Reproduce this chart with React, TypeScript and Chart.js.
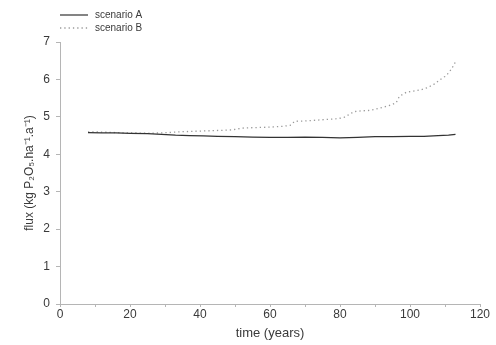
import React, { useEffect, useRef } from "react";
import { Chart, registerables } from "chart.js";

Chart.register(...registerables);

const yearsA = [8, 12, 16, 20, 25, 29, 33, 37, 41, 45, 50, 55, 60, 65, 70, 75, 80, 85, 90, 95, 100, 104, 108, 111, 113];
const fluxA = [4.58, 4.57, 4.57, 4.56, 4.55, 4.53, 4.51, 4.50, 4.49, 4.48, 4.47, 4.46, 4.45, 4.45, 4.46, 4.45, 4.44, 4.45, 4.47, 4.47, 4.48, 4.48, 4.50, 4.51, 4.53];

const yearsB = [8, 10, 13, 16, 19, 22, 25, 28, 31, 34, 37, 40, 43, 46, 49, 52, 55, 58, 61, 64, 66, 67, 70, 73, 76, 79, 81, 82, 84, 86, 88, 90, 92, 94, 96, 97, 99, 101, 103, 105, 107, 109, 110, 111, 112, 113];
const fluxB = [4.60, 4.60, 4.59, 4.58, 4.57, 4.57, 4.56, 4.57, 4.58, 4.60, 4.61, 4.62, 4.63, 4.64, 4.65, 4.70, 4.71, 4.72, 4.73, 4.75, 4.78, 4.88, 4.89, 4.91, 4.93, 4.95, 4.98, 5.03, 5.14, 5.16, 5.17, 5.20, 5.25, 5.30, 5.37, 5.55, 5.66, 5.69, 5.72, 5.78, 5.88, 6.02, 6.08, 6.17, 6.30, 6.47];

const xTicks = [0, 20, 40, 60, 80, 100, 120];
const yTicks = [0, 1, 2, 3, 4, 5, 6, 7];
const seriesNames = ["scenario A", "scenario B"];

const FONT = "'Liberation Sans', Arial, sans-serif";
const TEXT = "#3a3a3a";
const AXIS = "#b5b5b5";

const legendPlugin = {
  id: "customLegend",
  afterDraw(chart: any) {
    const ctx = chart.ctx;
    const items = chart.data.datasets;
    ctx.save();
    items.forEach((ds: any, i: number) => {
      const y = 15 + i * 13;
      ctx.beginPath();
      ctx.strokeStyle = ds.borderColor;
      ctx.lineWidth = ds.borderWidth;
      ctx.setLineDash(ds.borderDash || []);
      ctx.moveTo(60, y);
      ctx.lineTo(88, y);
      ctx.stroke();
      ctx.setLineDash([]);
      ctx.fillStyle = TEXT;
      ctx.font = `10px ${FONT}`;
      ctx.textBaseline = "middle";
      ctx.textAlign = "left";
      ctx.fillText(ds.label, 95, y);
    });
    ctx.restore();
  },
};

export default function App() {
  const ref = useRef<HTMLCanvasElement>(null);
  useEffect(() => {
    if (!ref.current) return;
    const chart = new Chart(ref.current, {
      type: "line",
      data: {
        datasets: [
          {
            label: seriesNames[0],
            data: yearsA.map((x, i) => ({ x, y: fluxA[i] })),
            borderColor: "#333333",
            borderWidth: 1.2,
            pointRadius: 0,
            tension: 0,
          },
          {
            label: seriesNames[1],
            data: yearsB.map((x, i) => ({ x, y: fluxB[i] })),
            borderColor: "#9a9a9a",
            borderWidth: 1.3,
            borderDash: [1.3, 3],
            pointRadius: 0,
            tension: 0,
          },
        ],
      },
      options: {
        animation: false,
        responsive: false,
        layout: { padding: { top: 42, right: 16, left: 20, bottom: 0 } },
        plugins: { legend: { display: false }, tooltip: { enabled: false } },
        scales: {
          x: {
            type: "linear",
            min: 0,
            max: 120,
            afterFit(s: any) { s.height = 41; },
            afterBuildTicks(s: any) {
              const t: any[] = [];
              for (let v = 0; v <= 120; v += 10) t.push({ value: v });
              s.ticks = t;
            },
            ticks: {
              autoSkip: false,
              maxRotation: 0,
              color: TEXT,
              font: { family: FONT, size: 12 },
              padding: 0,
              callback: (v: any) => (xTicks.includes(Number(v)) ? String(v) : ""),
            },
            grid: { drawOnChartArea: false, drawTicks: true, tickLength: 3, color: AXIS },
            border: { color: AXIS, width: 1 },
            title: {
              display: true,
              text: "time (years)",
              color: TEXT,
              font: { family: FONT, size: 13 },
              padding: { top: 0, bottom: 4 },
            },
          },
          y: {
            min: 0,
            max: 7,
            afterFit(s: any) { s.width = 40; },
            afterBuildTicks(s: any) { s.ticks = yTicks.map((v) => ({ value: v })); },
            ticks: {
              color: TEXT,
              font: { family: FONT, size: 12 },
              padding: 6,
            },
            grid: { drawOnChartArea: false, drawTicks: true, tickLength: 4, color: AXIS },
            border: { color: AXIS, width: 1 },
            title: {
              display: true,
              text: "flux (kg P₂O₅.ha⁻¹.a⁻¹)",
              color: TEXT,
              font: { family: FONT, size: 12 },
              padding: { top: 2, bottom: 0 },
            },
          },
        },
      },
      plugins: [legendPlugin],
    });
    return () => chart.destroy();
  }, []);
  return (
    <div style={{ position: "fixed", left: 0, top: 0, width: 496, height: 345, background: "#fff" }}>
      <canvas ref={ref} width={496} height={345} />
    </div>
  );
}
